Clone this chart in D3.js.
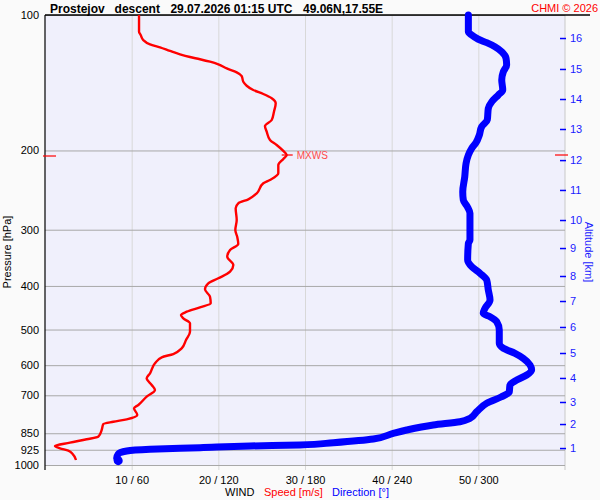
<!DOCTYPE html>
<html><head><meta charset="utf-8">
<script src="https://cdn.jsdelivr.net/npm/d3@7"></script>
<style>body{margin:0;background:#fafafa}svg{display:block;font-family:"Liberation Sans",Arial,sans-serif}</style>
</head><body><svg id="c" width="600" height="500"></svg>
<script>
// ---- data ----
const pressureTicks = [100,200,300,400,500,600,700,850,925,1000];
const speedTicks = [10,20,30,40,50];
const altitudeKm = [1,2,3,4,5,6,7,8,9,10,11,12,13,14,15,16];
const altitudePressure = [916.9,810.9,724.4,640.6,563.8,493.5,432.1,380.2,329.5,285.5,244.8,210.1,179.2,153.7,131.8,112.5];
const speedPressure = [100,108.9,110.8,113.7,116.2,118.0,120.2,122.3,124.0,125.4,127.0,128.7,131.4,134.1,136.7,140.7,143.6,146.8,149.8,153.1,157.1,164.0,171.1,176.5,181.7,189.6,194.5,200.5,204.7,208.9,215.4,224.8,232.6,236.6,249.0,256.8,262.1,268.9,285.5,300.5,311.9,322.8,332.8,344.5,359.4,371.9,384.7,394.7,407.1,422.7,437.3,446.3,456.4,464.2,472.1,484.3,505.6,527.5,550.5,566.7,576.4,594.3,625.5,641.7,664.0,681.3,705.0,735.6,748.2,774.3,791.5,801.3,810.9,836.0,865.1,876.7,892.0,907.3,918.2,929.4,945.4,974.8];
const speedValues = [10.85,10.85,11.04,11.34,12.12,13.27,14.42,15.58,16.73,17.88,19.04,20.0,20.97,22.12,22.7,22.88,23.27,24.03,25.19,26.16,26.62,26.42,26.16,25.38,25.58,25.96,26.73,27.5,27.89,27.5,26.92,26.92,25.96,25.19,24.43,23.46,22.3,22.0,22.12,21.96,22.19,22.3,21.35,21.03,21.73,21.35,20.0,18.84,18.46,19.04,19.12,17.88,16.35,15.69,15.96,16.73,16.73,16.27,15.77,14.8,13.47,12.69,12.12,11.73,12.31,12.69,11.73,10.77,10.27,10.65,9.43,7.88,6.73,6.54,6.15,4.81,2.88,1.15,1.73,2.69,3.2,3.58];
const dirPressure = [100,108.9,110.8,113.2,115.2,117.6,120.7,124.8,129.2,133.7,139.5,146.8,150.6,155.9,161.2,171.1,177.1,184.8,192.2,197.8,204.7,213.6,228.8,247.0,257.7,266.7,275.9,316.2,321.6,350.3,362.5,375.0,388.1,408.4,429.9,448.6,460.2,468.2,480.4,501.2,536.5,550.4,564.7,579.3,599.5,615.0,631.0,647.4,664.0,688.3,706.1,729.2,761.3,787.4,801.3,814.9,836.0,850.4,875.3,892.0,902.7,907.3,915.3,922.7,930.8,945.4,966.3,978.1];
const dirValues = [293.1,293.1,295.4,300.0,305.8,311.5,316.2,319.2,319.6,317.3,316.2,316.9,313.8,309.3,306.9,306.2,302.3,300.7,298.4,295.4,293.1,291.5,290.6,289.2,289.6,292.4,294.2,294.2,293.1,292.6,295.4,301.2,305.8,306.9,308.1,304.6,303.4,308.1,312.7,314.5,314.5,317.3,325.4,331.1,335.8,336.9,333.5,326.6,321.9,321.4,315.7,305.8,298.9,294.2,287.3,268.8,250.4,241.1,227.3,199.6,176.5,141.9,107.3,72.7,56.6,50.7,49.6,50.7];
const titleParts = ["Prostejov","descent","29.07.2026 01:15 UTC","49.06N,17.55E"];

// ---- layout ----
const L=45, R=565, T=15, B=465, BX=470;
const svg = d3.select("#c");
const x = d3.scaleLinear().domain([0,60]).range([L,R]);
const xd = d3.scaleLinear().domain([0,360]).range([L,R]);
const y = d3.scaleLog().domain([100,1000]).range([T,B]);

svg.append("rect").attr("x",L).attr("y",T).attr("width",R-L).attr("height",B-T).attr("fill","#f0f0fc");

// vertical grid + bottom labels
const gx = svg.append("g").attr("transform",`translate(0,${BX})`)
  .call(d3.axisBottom(x).tickValues(speedTicks).tickSize(-(BX-T)).tickPadding(6)
    .tickFormat(d=>d+" / "+(d*6)));
gx.select(".domain").remove();
gx.selectAll("line").attr("stroke","#d8d8d8");
gx.selectAll("text").attr("font-size",11).attr("fill","#000").attr("font-family","Liberation Sans, Arial");
svg.append("line").attr("x1",R).attr("x2",R).attr("y1",T).attr("y2",BX).attr("stroke","#c8c8c8");

// horizontal grid + pressure labels
const gy = svg.append("g").attr("transform",`translate(${L},0)`)
  .call(d3.axisLeft(y).tickValues(pressureTicks).tickSize(-(R-L)).tickPadding(6).tickFormat(d3.format("d")));
gy.select(".domain").remove();
gy.selectAll("line").attr("stroke","#a8a8a8");
gy.selectAll("text").attr("font-size",11).attr("fill","#000").attr("font-family","Liberation Sans, Arial");

// frame
svg.append("line").attr("x1",L).attr("x2",590).attr("y1",T).attr("y2",T).attr("stroke","#000").attr("stroke-width",1.5);
svg.append("line").attr("x1",L).attr("x2",L).attr("y1",T).attr("y2",BX).attr("stroke","#000").attr("stroke-width",1.2);

// altitude axis
const ga = svg.append("g").attr("transform",`translate(${R-5},0)`)
  .call(d3.axisRight(y).tickValues(altitudePressure).tickSize(6).tickPadding(4).tickFormat((d,i)=>altitudeKm[i]));
ga.select(".domain").remove();
ga.selectAll("line").attr("stroke","#0000ff").attr("stroke-width",1.5);
ga.selectAll("text").attr("font-size",11).attr("fill","#1a1aff").attr("font-family","Liberation Sans, Arial");

// direction line
const dirData = dirPressure.map((p,i)=>({p,v:dirValues[i]}));
svg.append("path").datum(dirData)
  .attr("d", d3.line().x(d=>xd(d.v)).y(d=>y(d.p)).curve(d3.curveMonotoneY))
  .attr("fill","none").attr("stroke","#0000ff").attr("stroke-width",7)
  .attr("stroke-linejoin","round").attr("stroke-linecap","round");
const lastD = dirData[dirData.length-1];
svg.append("circle").attr("cx",xd(lastD.v)).attr("cy",y(lastD.p)).attr("r",4.5).attr("fill","#0000ff");

// speed line
const spData = speedPressure.map((p,i)=>({p,v:speedValues[i]}));
svg.append("path").datum(spData)
  .attr("d", d3.line().x(d=>x(d.v)).y(d=>y(d.p)).curve(d3.curveMonotoneY))
  .attr("fill","none").attr("stroke","#ff0000").attr("stroke-width",2.4)
  .attr("stroke-linejoin","round");

// max wind marker
const mx = spData.reduce((a,b)=>b.v>a.v?b:a);
const my = y(mx.p);
svg.append("line").attr("x1",x(mx.v)-5).attr("x2",x(mx.v)+6).attr("y1",my).attr("y2",my).attr("stroke","#ff0000").attr("stroke-width",1.2);
svg.append("text").attr("x",x(mx.v)+10).attr("y",my+4).attr("font-size",10).attr("fill","#ff4a4a").text("MXWS");
svg.append("line").attr("x1",L-2).attr("x2",L+11).attr("y1",my+1).attr("y2",my+1).attr("stroke","#ff0000").attr("stroke-width",1.2);
svg.append("line").attr("x1",R-10).attr("x2",R+3).attr("y1",my).attr("y2",my).attr("stroke","#ff0000").attr("stroke-width",1.2);

// title
const tpos=[50,114.6,170.4,303];
const tt = svg.append("text").attr("y",13).attr("font-size",12).attr("font-weight","bold").attr("fill","#000");
titleParts.forEach((s,i)=>tt.append("tspan").attr("x",tpos[i]).text(s));
svg.append("text").attr("x",598).attr("y",12).attr("text-anchor","end").attr("font-size",11).attr("fill","#ff0000").text("CHMI © 2026");

// axis titles
svg.append("text").attr("transform","translate(11,252) rotate(-90)").attr("text-anchor","middle").attr("font-size",11).attr("fill","#000").text("Pressure [hPa]");
svg.append("text").attr("transform","translate(585,252) rotate(90)").attr("text-anchor","middle").attr("font-size",11).attr("fill","#1a1aff").text("Altitude [km]");

// legend
const lg = svg.append("text").attr("y",496).attr("font-size",11);
lg.append("tspan").attr("x",225).attr("fill","#000").text("WIND");
lg.append("tspan").attr("x",264).attr("fill","#ff0000").text("Speed [m/s]");
lg.append("tspan").attr("x",332).attr("fill","#0000ff").text("Direction [°]");
</script></body></html>
